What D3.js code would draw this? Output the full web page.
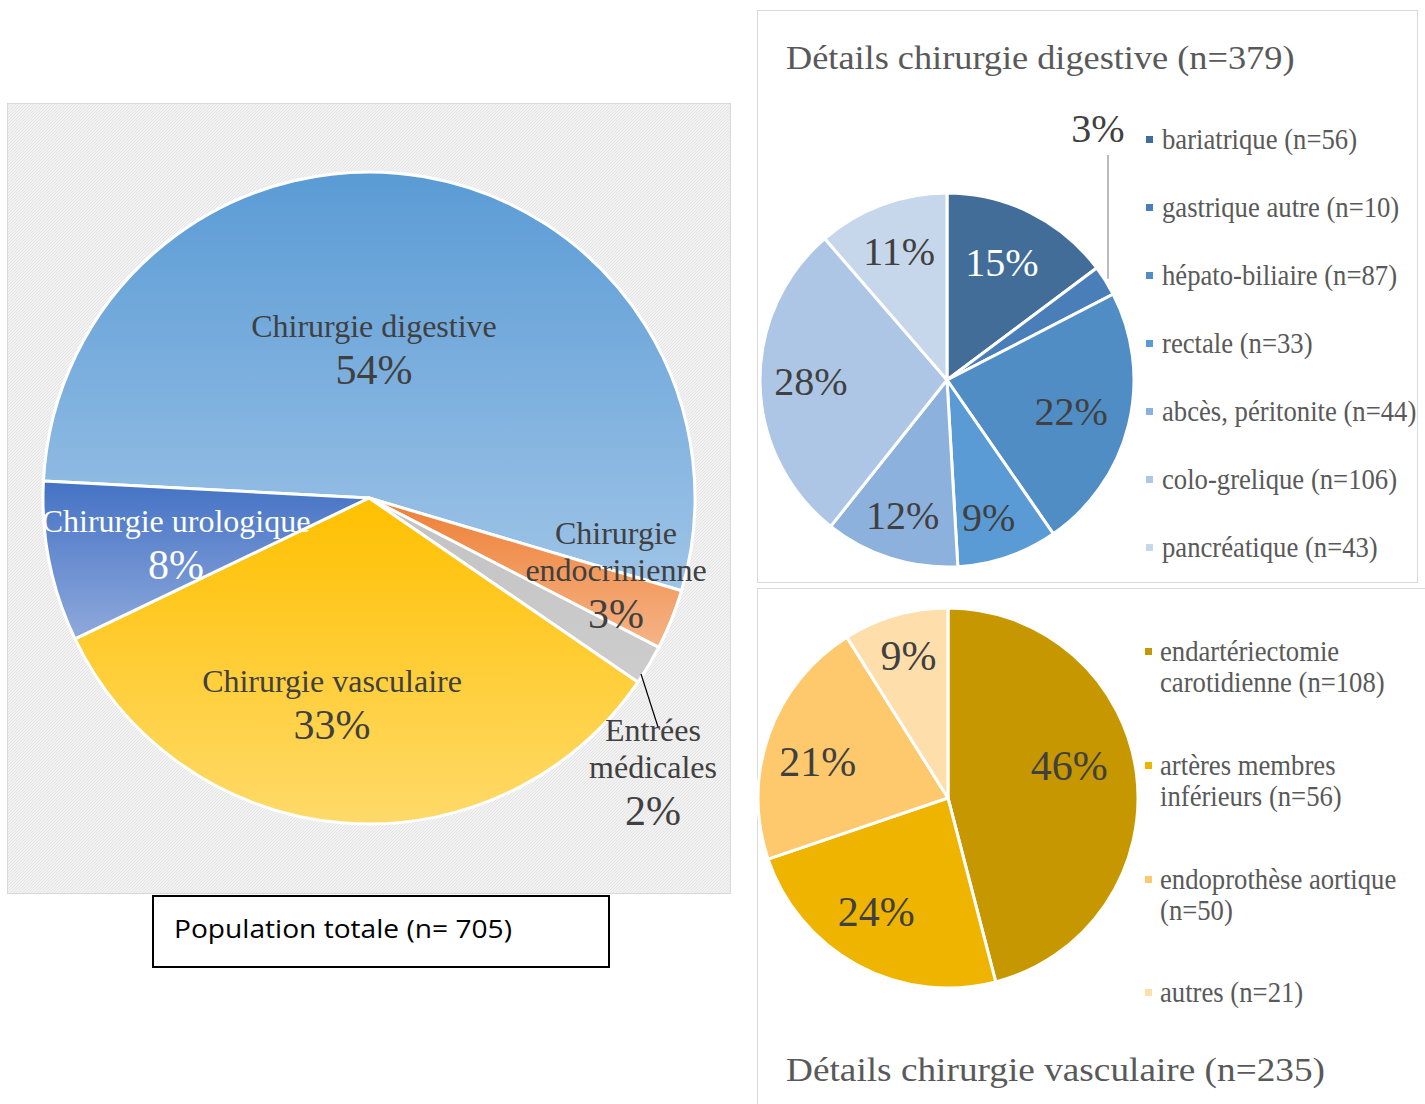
<!DOCTYPE html>
<html>
<head>
<meta charset="utf-8">
<script src="https://cdn.jsdelivr.net/npm/d3@7"></script>
<style>
  body { margin: 0; background: #fff; }
  svg text { font-family: "Liberation Serif", "Times New Roman", serif; }
</style>
</head>
<body>
<svg id="chart" width="1425" height="1104"></svg>
<script>
// main pie : population totale
var mainNames = ["Chirurgie digestive", "Chirurgie endocrinienne", "Entrées médicales", "Chirurgie vasculaire", "Chirurgie urologique"];
var mainValues = [379, 21, 14, 235, 56];
var mainPct = ["54%", "3%", "2%", "33%", "8%"];

// detail digestive
var digNames = ["bariatrique (n=56)", "gastrique autre (n=10)", "hépato-biliaire (n=87)", "rectale (n=33)", "abcès, péritonite (n=44)", "colo-grelique (n=106)", "pancréatique (n=43)"];
var digValues = [56, 10, 87, 33, 44, 106, 43];
var digPct = ["15%", "3%", "22%", "9%", "12%", "28%", "11%"];

// detail vasculaire
var vasNames = [["endartériectomie", "carotidienne (n=108)"], ["artères membres", "inférieurs (n=56)"], ["endoprothèse aortique", "(n=50)"], ["autres (n=21)"]];
var vasValues = [108, 56, 50, 21];
var vasPct = ["46%", "24%", "21%", "9%"];

var svg = d3.select("#chart");
var defs = svg.append("defs");

// hatch background of the main panel
var pat = defs.append("pattern")
  .attr("id", "hatch")
  .attr("width", 3).attr("height", 3)
  .attr("patternUnits", "userSpaceOnUse");
pat.append("rect").attr("width", 3).attr("height", 3).attr("fill", "#f2f2f2");
pat.append("path").attr("d", "M0,3 L3,0").attr("stroke", "#e4e4e4").attr("stroke-width", 1);

function grad(id, c1, c2) {
  var g = defs.append("linearGradient").attr("id", id)
    .attr("x1", 0).attr("y1", 0).attr("x2", 0).attr("y2", 1);
  g.append("stop").attr("offset", "0%").attr("stop-color", c1);
  g.append("stop").attr("offset", "100%").attr("stop-color", c2);
  return "url(#" + id + ")";
}

var mainFills = [
  grad("g0", "#5a9bd5", "#9fc4e7"),
  grad("g1", "#ee7f35", "#f5b487"),
  grad("g2", "#c2c2c2", "#cdcdcd"),
  grad("g3", "#ffc000", "#ffda6a"),
  grad("g4", "#4472c4", "#8fa9dc")
];

// ---------- main panel ----------
svg.append("rect")
  .attr("x", 7.5).attr("y", 103.5).attr("width", 723).attr("height", 790)
  .attr("fill", "url(#hatch)").attr("stroke", "#d9d9d9");

var mcx = 369, mcy = 498, mr = 326;
var deg = Math.PI / 180;

var mainPie = d3.pie().sort(null).startAngle(-87 * deg).endAngle(273 * deg);
var mainArc = d3.arc().innerRadius(0).outerRadius(mr);
var mainArcs = mainPie(mainValues);

var gMain = svg.append("g").attr("transform", "translate(" + mcx + "," + mcy + ")");
gMain.selectAll("path").data(mainArcs).enter().append("path")
  .attr("d", mainArc)
  .attr("fill", function(d, i) { return mainFills[i]; })
  .attr("stroke", "#fff").attr("stroke-width", 3).attr("stroke-linejoin", "round");

// label layout: x offset and first baseline offset from pie centre
var mainLabelPos = [[5, -161], [247, 46], [284, 243], [-37, 194], [-193, 34]];
var mainLabelLines = [
  ["Chirurgie digestive"],
  ["Chirurgie", "endocrinienne"],
  ["Entrées", "médicales"],
  ["Chirurgie vasculaire"],
  ["Chirurgie urologique"]
];

// leader line for "Entrées médicales"
var a = mainArcs[2].endAngle - 1.5 * deg;
gMain.append("line")
  .attr("x1", (mr - 2) * Math.sin(a)).attr("y1", -(mr - 2) * Math.cos(a))
  .attr("x2", 289).attr("y2", 229)
  .attr("stroke", "#000").attr("stroke-width", 1.2);

mainArcs.forEach(function(d, i) {
  var p = mainLabelPos[i];
  var lines = mainLabelLines[i];
  var col = i === 4 ? "#ffffff" : "#404040";
  var t = gMain.append("text")
    .attr("text-anchor", "middle")
    .attr("fill", col);
  lines.forEach(function(l, k) {
    t.append("tspan").attr("x", p[0]).attr("y", p[1] + k * 37)
      .attr("font-size", 32).text(l);
  });
  t.append("tspan").attr("x", p[0]).attr("y", p[1] + (lines.length - 1) * 37 + 47)
    .attr("font-size", 42).text(mainPct[i]);
});

// caption box
svg.append("rect")
  .attr("x", 153).attr("y", 896).attr("width", 456).attr("height", 71)
  .attr("fill", "#fff").attr("stroke", "#000").attr("stroke-width", 2);
var cap = svg.append("text")
  .style("font-family", "'Open Sans', Lato, sans-serif")
  .attr("font-size", 25).attr("fill", "#000")
  .text("Population totale (n= 705)");
var capLen = cap.node().getComputedTextLength();
cap.attr("transform", "translate(174,938) scale(" + (338 / capLen) + ",1)");

// helper : text stretched horizontally like the picture
function stext(parent, x, y, size, sx, fill, str) {
  return parent.append("text")
    .attr("transform", "translate(" + x + "," + y + ") scale(" + sx + ",1)")
    .attr("font-size", size).attr("fill", fill)
    .text(str);
}

// ---------- digestive detail ----------
svg.append("rect")
  .attr("x", 757.5).attr("y", 10.5).attr("width", 660).attr("height", 572)
  .attr("fill", "#fff").attr("stroke", "#d9d9d9");
stext(svg, 786, 69, 33, 1.1, "#595959", "Détails chirurgie digestive (n=379)");

var digColors = ["#416d98", "#4a7eb8", "#508dc4", "#5b9bd5", "#8cb1dc", "#adc6e5", "#c6d6eb"];
var dcx = 947, dcy = 380, dr = 187;
var digArc = d3.arc().innerRadius(0).outerRadius(dr);
var digLab = d3.arc().innerRadius(dr * 0.75).outerRadius(dr * 0.75);
var digArcs = d3.pie().sort(null)(digValues);
var digShift = [[-8, 8], [0, 0], [-12, -2], [-4, 5], [-2, 2], [4, -1], [1, 3]];

var gDig = svg.append("g").attr("transform", "translate(" + dcx + "," + dcy + ")");
gDig.selectAll("path").data(digArcs).enter().append("path")
  .attr("d", digArc)
  .attr("fill", function(d, i) { return digColors[i]; })
  .attr("stroke", "#fff").attr("stroke-width", 3);

digArcs.forEach(function(d, i) {
  if (i === 1) {
    // small slice : label outside with leader
    var e = d3.arc().innerRadius(dr).outerRadius(dr).centroid(d);
    gDig.append("line")
      .attr("x1", 161).attr("y1", e[1] - 2)
      .attr("x2", 161).attr("y2", -225)
      .attr("stroke", "#a6a6a6").attr("stroke-width", 1.5);
    gDig.append("text")
      .attr("x", 151).attr("y", -238)
      .attr("text-anchor", "middle")
      .attr("font-size", 40).attr("fill", "#404040")
      .text(digPct[i]);
    return;
  }
  var c = digLab.centroid(d);
  gDig.append("text")
    .attr("x", c[0] + digShift[i][0]).attr("y", c[1] + 13 + digShift[i][1])
    .attr("text-anchor", "middle")
    .attr("font-size", 40)
    .attr("fill", i === 0 ? "#ffffff" : "#404040")
    .text(digPct[i]);
});

var digLeg = svg.append("g");
digNames.forEach(function(n, i) {
  var y = 149 + i * 68;
  digLeg.append("rect")
    .attr("x", 1146).attr("y", y - 13).attr("width", 7).attr("height", 7)
    .attr("fill", digColors[i]);
  stext(digLeg, 1162, y, 29, 0.92, "#595959", n);
});

// ---------- vascular detail ----------
svg.append("rect")
  .attr("x", 757.5).attr("y", 588.5).attr("width", 700).attr("height", 560)
  .attr("fill", "#fff").attr("stroke", "#d9d9d9");

var vasColors = ["#c79700", "#efb400", "#fec96c", "#fedeab"];
var vcx = 948, vcy = 798, vr = 190;
var vasArc = d3.arc().innerRadius(0).outerRadius(vr);
var vasLab = d3.arc().innerRadius(vr * 0.75).outerRadius(vr * 0.75);
var vasArcs = d3.pie().sort(null)(vasValues);

var gVas = svg.append("g").attr("transform", "translate(" + vcx + "," + vcy + ")");
gVas.selectAll("path").data(vasArcs).enter().append("path")
  .attr("d", vasArc)
  .attr("fill", function(d, i) { return vasColors[i]; })
  .attr("stroke", "#fff").attr("stroke-width", 3);

var vasShift = [[-20, 0], [-4, 3], [4, 26], [0, 9]];
vasArcs.forEach(function(d, i) {
  var c = vasLab.centroid(d);
  gVas.append("text")
    .attr("x", c[0] + vasShift[i][0]).attr("y", c[1] + vasShift[i][1])
    .attr("text-anchor", "middle")
    .attr("font-size", 42).attr("fill", "#404040")
    .text(vasPct[i]);
});

var vasRowY = [661, 775, 889, 1002];
var vasLeg = svg.append("g");
vasNames.forEach(function(lines, i) {
  var y = vasRowY[i];
  vasLeg.append("rect")
    .attr("x", 1145).attr("y", y - 13).attr("width", 7).attr("height", 7)
    .attr("fill", vasColors[i]);
  lines.forEach(function(l, k) {
    stext(vasLeg, 1160, y + k * 31, 29, 0.92, "#595959", l);
  });
});

stext(svg, 786, 1081, 33, 1.13, "#595959", "Détails chirurgie vasculaire (n=235)");
</script>
</body>
</html>
